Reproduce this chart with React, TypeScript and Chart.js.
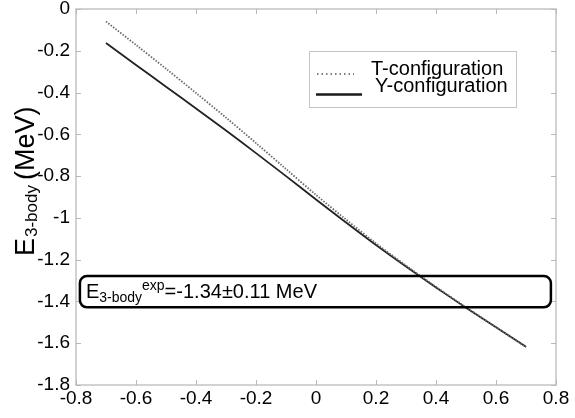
import React, { useEffect, useRef } from "react";
import { Chart, registerables } from "chart.js";

Chart.register(...registerables);

// ---- data ----
const xValues = [-0.7, -0.6, -0.5, -0.4, -0.3, -0.2, -0.1, 0, 0.1, 0.2, 0.3, 0.4, 0.5, 0.6, 0.7];
const tConfig = [-0.06, -0.172, -0.286, -0.402, -0.52, -0.642, -0.766, -0.89, -1.008, -1.122, -1.228, -1.33, -1.428, -1.523, -1.618];
const yConfig = [-0.163, -0.268, -0.372, -0.476, -0.582, -0.69, -0.8, -0.912, -1.022, -1.13, -1.233, -1.333, -1.43, -1.524, -1.617];
const xTicks = [-0.8, -0.6, -0.4, -0.2, 0, 0.2, 0.4, 0.6, 0.8];
const yTicks = [0, -0.2, -0.4, -0.6, -0.8, -1, -1.2, -1.4, -1.6, -1.8];
const seriesLabels = ["T-configuration", "Y-configuration"];
const expValue = "-1.34";
const expError = "0.11";

const FONT = "'Liberation Sans', Arial, sans-serif";
const fmt = (v: number) => String(Number(v.toFixed(2)));

const overlay = {
  id: "overlay",
  afterDraw(chart: any) {
    const ctx: CanvasRenderingContext2D = chart.ctx;
    const { left, right, top, bottom } = chart.chartArea;
    const xs = chart.scales.x;
    const ys = chart.scales.y;
    ctx.save();
    // axes box
    ctx.strokeStyle = "#c4c4c4";
    ctx.lineWidth = 1.5;
    ctx.strokeRect(left, top, right - left, bottom - top);
    // inward ticks
    ctx.lineWidth = 1;
    ctx.strokeStyle = "#b8b8b8";
    const tl = 5;
    ctx.beginPath();
    xTicks.forEach((v) => {
      const px = Math.round(xs.getPixelForValue(v)) + 0.5;
      ctx.moveTo(px, bottom);
      ctx.lineTo(px, bottom - tl);
      ctx.moveTo(px, top);
      ctx.lineTo(px, top + tl);
    });
    yTicks.forEach((v) => {
      const py = Math.round(ys.getPixelForValue(v)) + 0.5;
      ctx.moveTo(left, py);
      ctx.lineTo(left + tl, py);
      ctx.moveTo(right, py);
      ctx.lineTo(right - tl, py);
    });
    ctx.stroke();

    // legend
    const lx = 309, ly = 51, lw = 207, lh = 56;
    ctx.fillStyle = "#fff";
    ctx.fillRect(lx, ly, lw, lh);
    ctx.strokeStyle = "#c4c4c4";
    ctx.lineWidth = 1;
    ctx.strokeRect(lx + 0.5, ly + 0.5, lw, lh);
    ctx.strokeStyle = "#555";
    ctx.lineWidth = 1.5;
    ctx.setLineDash([1.5, 3]);
    ctx.beginPath();
    ctx.moveTo(317, 74);
    ctx.lineTo(354, 74);
    ctx.stroke();
    ctx.setLineDash([]);
    ctx.strokeStyle = "#1a1a1a";
    ctx.lineWidth = 2.5;
    ctx.beginPath();
    ctx.moveTo(316, 94.5);
    ctx.lineTo(362, 94.5);
    ctx.stroke();
    ctx.fillStyle = "#000";
    ctx.font = `20px ${FONT}`;
    ctx.textBaseline = "alphabetic";
    ctx.textAlign = "left";
    ctx.fillText(seriesLabels[0], 371, 75);
    ctx.fillText(seriesLabels[1], 375, 92);

    // experimental box
    const bx0 = xs.getPixelForValue(-0.787);
    const bx1 = xs.getPixelForValue(0.783);
    const by0 = ys.getPixelForValue(-1.278);
    const by1 = ys.getPixelForValue(-1.428);
    ctx.strokeStyle = "#000";
    ctx.lineWidth = 2.5;
    ctx.beginPath();
    (ctx as any).roundRect(bx0, by0, bx1 - bx0, by1 - by0, 7);
    ctx.stroke();
    let x = bx0 + 6;
    const base = by0 + 22;
    ctx.fillStyle = "#000";
    ctx.font = `20px ${FONT}`;
    ctx.fillText("E", x, base);
    x += ctx.measureText("E").width;
    ctx.font = `14px ${FONT}`;
    ctx.fillText("3-body", x, base + 4);
    x += ctx.measureText("3-body").width;
    ctx.fillText("exp", x, base - 8);
    x += ctx.measureText("exp").width;
    ctx.font = `20px ${FONT}`;
    ctx.fillText(`=${expValue}\u00b1${expError} MeV`, x, base);

    // y-axis title
    ctx.translate(34, 256);
    ctx.rotate(-Math.PI / 2);
    let tx = 0;
    ctx.font = `27px ${FONT}`;
    ctx.fillText("E", tx, 0);
    tx += ctx.measureText("E").width + 1;
    ctx.font = `17px ${FONT}`;
    ctx.fillText("3-body", tx, 3);
    tx += ctx.measureText("3-body").width + 5;
    ctx.font = `27px ${FONT}`;
    ctx.fillText("(MeV)", tx, 0);
    ctx.restore();
  },
};

export default function App() {
  const ref = useRef<HTMLCanvasElement>(null);
  useEffect(() => {
    document.body.style.margin = "0";
    const canvas = ref.current!;
    const chart = new Chart(canvas, {
      type: "line",
      data: {
        datasets: [
          {
            label: seriesLabels[0],
            data: xValues.map((x, i) => ({ x, y: tConfig[i] })),
            borderColor: "#6a6a6a",
            borderWidth: 1.8,
            borderDash: [1.5, 1.5],
            pointRadius: 0,
            tension: 0.3,
            fill: false,
          },
          {
            label: seriesLabels[1],
            data: xValues.map((x, i) => ({ x, y: yConfig[i] })),
            borderColor: "#222",
            borderWidth: 1.8,
            pointRadius: 0,
            tension: 0.3,
            fill: false,
          },
        ],
      },
      options: {
        responsive: false,
        animation: false,
        layout: { padding: { top: 9, right: 19, left: 0, bottom: 0 } },
        plugins: { legend: { display: false }, tooltip: { enabled: false } },
        scales: {
          x: {
            type: "linear",
            min: -0.8,
            max: 0.8,
            grid: { display: false, drawTicks: false },
            border: { display: false },
            ticks: { font: { family: FONT, size: 19 }, color: "#000", padding: 2, maxRotation: 0, callback: (v: any) => fmt(Number(v)) },
            afterBuildTicks: (sc: any) => {
              sc.ticks = xTicks.map((v) => ({ value: v }));
            },
            afterFit: (sc: any) => {
              sc.height = 33;
              sc.paddingLeft = 0;
              sc.paddingRight = 0;
            },
          },
          y: {
            type: "linear",
            min: -1.8,
            max: 0,
            grid: { display: false, drawTicks: false },
            border: { display: false },
            ticks: { font: { family: FONT, size: 19 }, color: "#000", padding: 6, callback: (v: any) => fmt(Number(v)) },
            afterBuildTicks: (sc: any) => {
              sc.ticks = yTicks.slice().reverse().map((v) => ({ value: v }));
            },
            afterFit: (sc: any) => {
              sc.width = 76;
              sc.paddingTop = 0;
              sc.paddingBottom = 0;
            },
          },
        },
      },
      plugins: [overlay],
    });
    return () => chart.destroy();
  }, []);
  return (
    <canvas
      ref={ref}
      width={575}
      height={418}
      style={{ display: "block", position: "absolute", left: 0, top: 0, width: 575, height: 418 }}
    />
  );
}
